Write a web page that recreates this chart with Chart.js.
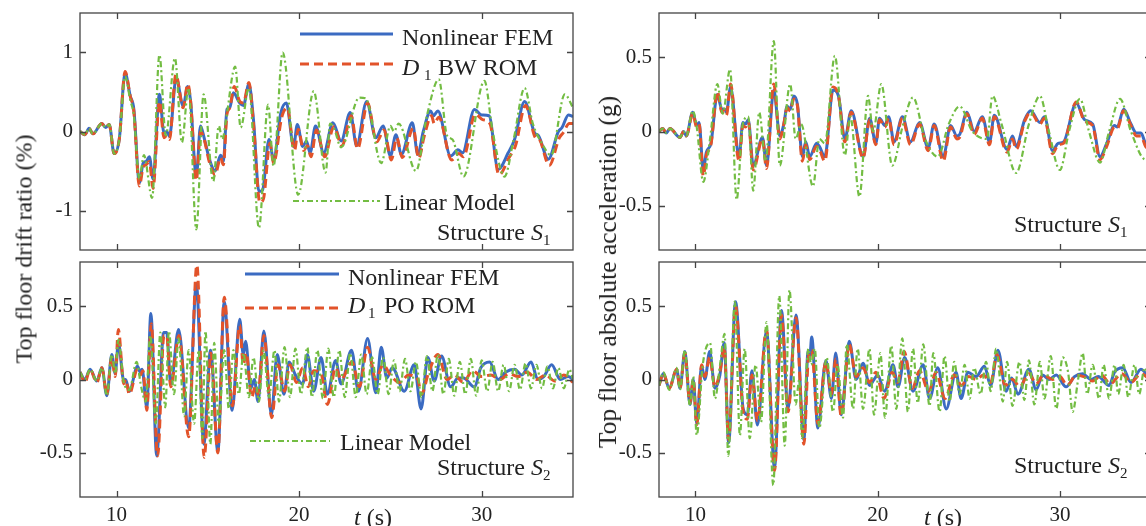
<!DOCTYPE html>
<html>
<head>
<meta charset="utf-8">
<script src="https://cdn.jsdelivr.net/npm/chart.js@4.4.1/dist/chart.umd.min.js"></script>
<style>
html, body { margin: 0; padding: 0; background: #fff; }
body { width: 1146px; height: 526px; overflow: hidden; position: relative; font-family: 'Liberation Serif', 'Times New Roman', serif; color: #222; }
canvas { position: absolute; }
.ylab { position: absolute; font-size: 24px; white-space: nowrap; transform: translate(-50%, -50%) rotate(-90deg); }
.xlab { position: absolute; font-size: 24px; white-space: nowrap; transform: translateX(-50%); }
</style>
</head>
<body>
<canvas id="cTL" width="590" height="256" style="left:0px;top:0px"></canvas>
<canvas id="cBL" width="590" height="270" style="left:0px;top:256px"></canvas>
<canvas id="cTR" width="590" height="256" style="left:580px;top:0px"></canvas>
<canvas id="cBR" width="590" height="270" style="left:580px;top:256px"></canvas>
<div class="ylab" style="left:24px;top:249px">Top floor drift ratio (%)</div>
<div class="ylab" style="left:608px;top:272px;font-size:25.5px">Top floor absolute acceleration (g)</div>
<div class="xlab" style="left:373px;top:504px"><i>t</i> (s)</div>
<div class="xlab" style="left:943px;top:504px"><i>t</i> (s)</div>
<script>
// time axis, seconds
var xTicks = [10, 20, 30];
var driftS1Ticks = [-1, 0, 1];
var halfTicks = [-0.5, 0, 0.5];

// top floor drift ratio (%), structure S1 : [t, value]
var driftS1Fem = [[8,0],[8.27,-0.04],[8.5,0.04],[8.7,-0.03],[9.2,0.1],[9.4,0.05],[9.6,0.09],[9.87,-0.28],[10.15,-0.1],[10.47,0.74],[10.75,0.45],[10.95,0.28],[11.25,-0.65],[11.46,-0.4],[11.62,-0.38],[11.8,-0.32],[12,-0.6],[12.35,0.47],[12.6,-0.02],[12.75,0],[12.9,-0.06],[13.27,0.68],[13.65,0.32],[13.9,0.57],[14.05,0.4],[14.37,-0.57],[14.6,0.07],[14.8,-0.08],[15.1,-0.36],[15.4,-0.5],[15.7,-0.3],[15.85,-0.38],[16.05,0.28],[16.2,0.3],[16.4,0.49],[16.75,0.36],[16.95,0.33],[17.25,0.6],[17.5,0.15],[17.8,-0.76],[18,-0.74],[18.35,-0.1],[18.6,-0.35],[19,0.24],[19.3,0.36],[19.7,-0.19],[19.9,0.09],[20.2,-0.19],[20.4,-0.12],[20.6,-0.27],[20.9,0.07],[21.35,-0.27],[21.85,0.11],[22.3,-0.12],[22.8,0.24],[23.15,-0.18],[23.7,0.38],[24.2,-0.08],[24.6,0.07],[25,-0.31],[25.3,-0.04],[25.6,-0.29],[26.2,0.11],[26.5,-0.29],[26.8,0],[27.2,0.26],[27.35,0.2],[27.6,0.26],[28.3,-0.31],[28.7,-0.23],[28.95,-0.27],[29.6,0.28],[30,0.21],[30.4,0.2],[30.9,-0.48],[31.45,-0.27],[31.8,-0.1],[32.35,0.38],[32.9,-0.02],[33.1,-0.05],[33.65,-0.35],[34.2,0],[34.4,0.05],[34.75,0.21],[35,0.19]];
var driftS1Rom = [[8,0],[8.27,-0.04],[8.5,0.04],[8.7,-0.03],[9.2,0.1],[9.4,0.05],[9.6,0.09],[9.87,-0.28],[10.15,-0.1],[10.47,0.76],[10.75,0.45],[10.95,0.25],[11.25,-0.69],[11.46,-0.45],[11.62,-0.42],[11.8,-0.38],[12,-0.72],[12.35,0.38],[12.6,-0.08],[12.75,-0.05],[12.9,-0.1],[13.25,0.72],[13.65,0.3],[13.9,0.6],[14.05,0.4],[14.37,-0.62],[14.6,0],[14.8,-0.1],[15.1,-0.4],[15.4,-0.55],[15.7,-0.33],[15.85,-0.42],[16.05,0.22],[16.2,0.3],[16.45,0.57],[16.75,0.38],[16.95,0.36],[17.25,0.62],[17.5,0.1],[17.85,-0.9],[18.05,-0.85],[18.4,-0.15],[18.6,-0.4],[19.05,0.18],[19.35,0.3],[19.75,-0.24],[19.95,0.03],[20.25,-0.24],[20.45,-0.18],[20.65,-0.32],[20.95,0.02],[21.4,-0.32],[21.9,0.06],[22.35,-0.18],[22.85,0.2],[23.2,-0.22],[23.75,0.36],[24.25,-0.13],[24.65,0.02],[25.05,-0.36],[25.35,-0.08],[25.65,-0.33],[26.25,0.04],[26.55,-0.34],[26.85,-0.06],[27.25,0.2],[27.4,0.1],[27.65,0.18],[28.35,-0.36],[28.75,-0.28],[29,-0.32],[29.65,0.22],[30.05,0.15],[30.45,0.1],[30.95,-0.55],[31.5,-0.33],[31.85,-0.18],[32.4,0.33],[32.95,-0.08],[33.15,-0.1],[33.7,-0.43],[34.25,-0.08],[34.45,-0.02],[34.8,0.1],[35,0.1]];
var driftS1Lin = [[8,0],[8.27,-0.04],[8.5,0.04],[8.7,-0.03],[9.2,0.1],[9.4,0.05],[9.6,0.09],[9.87,-0.28],[10.15,-0.1],[10.47,0.7],[10.75,0.4],[10.95,0.2],[11.25,-0.6],[11.5,-0.3],[11.95,-0.84],[12.35,0.97],[12.7,-0.05],[13.2,0.93],[13.58,-0.14],[13.94,0.55],[14.37,-1.24],[14.77,0.47],[15.3,-0.63],[15.6,0.07],[15.8,-0.1],[16,0.15],[16.5,0.82],[16.8,0.05],[17.25,0.55],[17.8,-1.22],[18.3,0.34],[18.6,-0.44],[19.1,1],[19.95,-0.8],[20.8,0.51],[21.45,-0.52],[21.7,0.1],[21.9,0.05],[22.3,-0.2],[23.3,0.43],[23.65,0.42],[24.5,-0.4],[25,0.07],[25.2,0],[25.45,0.1],[26.4,-0.5],[27,0.2],[27.65,0.66],[28.1,-0.05],[28.4,-0.1],[29,-0.57],[30.15,0.64],[30.6,0],[31.25,-0.57],[31.75,-0.1],[32.35,0.55],[32.8,0.1],[33.3,-0.15],[33.8,-0.3],[34.55,0.47],[35,0.3]];

// top floor drift ratio (%), structure S2
var driftS2Fem = [[8,0.05],[8.27,0],[8.55,0.07],[8.92,-0.01],[9.2,0.08],[9.47,-0.11],[9.74,0.17],[9.93,0.04],[10.1,0.25],[10.4,-0.01],[10.5,0],[10.7,-0.08],[11.15,0.09],[11.3,0.05],[11.4,0.07],[11.66,-0.19],[11.88,0.45],[12.2,-0.52],[12.58,0.32],[12.75,0.32],[12.97,-0.03],[13.4,0.34],[13.95,-0.33],[14.37,0.65],[14.78,-0.44],[15.15,0.2],[15.55,-0.49],[15.9,0.53],[16.33,-0.21],[16.75,0.41],[16.94,0.17],[17.07,0.26],[17.35,-0.06],[17.55,0],[17.75,-0.15],[18.07,0.33],[18.48,-0.24],[18.8,0.17],[19.17,-0.1],[19.45,0.12],[19.8,0.03],[20.2,-0.03],[20.45,0.17],[20.8,-0.08],[21.2,0.15],[21.55,-0.1],[22,0.13],[22.3,-0.03],[22.87,0.2],[23.25,-0.08],[23.75,0.28],[24.2,-0.09],[24.5,0.22],[24.8,0.01],[25.1,0.08],[25.76,-0.08],[26.3,0.1],[26.68,-0.2],[27.05,0.15],[27.4,-0.01],[27.8,0.16],[28.3,-0.05],[28.7,0.01],[29,0.01],[29.6,-0.05],[29.95,0.08],[30.43,0.12],[30.9,0],[31.3,0.05],[31.8,0.07],[32.2,0.03],[32.7,0.12],[33.07,0],[33.4,0.02],[33.83,0.1],[34.3,0],[34.74,0.02],[35,0]];
var driftS2Rom = [[8,0.05],[8.27,-0.02],[8.55,0.07],[8.92,-0.02],[9.2,0.08],[9.47,-0.1],[9.74,0.15],[9.93,0.02],[10.1,0.34],[10.4,-0.03],[10.5,0],[10.7,-0.1],[11.15,0.07],[11.3,0.03],[11.45,0.06],[11.66,-0.21],[11.9,0.38],[12.25,-0.52],[12.6,0.3],[12.75,0.3],[12.97,-0.05],[13.42,0.3],[13.95,-0.39],[14.4,0.78],[14.8,-0.53],[15.17,0.18],[15.55,-0.5],[15.9,0.56],[16.35,-0.18],[16.75,0.37],[16.94,0.1],[17.1,0.18],[17.4,-0.12],[17.6,-0.05],[17.75,-0.1],[18.07,0.3],[18.5,-0.26],[18.85,0.1],[19.2,-0.08],[19.5,0.1],[19.85,-0.02],[20.2,0.08],[20.5,-0.05],[20.8,0.06],[21.2,0.04],[21.55,-0.17],[22,0.08],[22.3,0],[22.9,0.12],[23.3,-0.05],[23.75,0.22],[24.2,0],[24.6,0.1],[25,0.03],[25.5,-0.02],[26,0.03],[26.5,0],[26.7,-0.1],[27.1,0.05],[27.6,0.17],[28.1,0],[28.5,0.03],[29,-0.02],[29.5,0.06],[30,0.02],[30.5,0.03],[31,0],[31.5,0.04],[32,0.02],[32.5,0.05],[33,0],[33.5,0.03],[34,-0.01],[34.5,0.03],[35,-0.02]];
var driftS2Lin = [[8,0.05],[8.27,0],[8.55,0.07],[8.92,-0.01],[9.2,0.08],[9.47,-0.11],[9.74,0.17],[9.93,0.04],[10.1,0.27],[10.4,-0.02],[10.7,-0.07],[11.1,0.12],[11.35,-0.05],[11.6,-0.15],[11.85,0.3],[12.15,-0.3],[12.4,0.32],[12.67,-0.19],[12.87,0.33],[13.15,-0.1],[13.4,0.28],[13.7,-0.25],[13.95,0.2],[14.25,-0.3],[14.5,0.2],[14.7,-0.4],[14.87,0.33],[15.14,-0.44],[15.35,0.25],[15.6,-0.3],[15.9,0.2],[16.15,-0.2],[16.4,0.2],[16.7,-0.1],[16.95,0.18],[17.25,-0.12],[17.5,0.15],[17.8,-0.15],[18.05,0.2],[18.35,-0.12],[18.65,0.2],[18.9,-0.15],[19.2,0.22],[19.5,-0.12],[19.8,0.21],[20.1,-0.1],[20.45,0.22],[20.7,-0.12],[21,0.2],[21.3,-0.13],[21.6,0.21],[21.9,-0.12],[22.2,0.2],[22.5,-0.12],[22.8,0.18],[23.1,-0.12],[23.4,0.17],[23.7,-0.1],[24,0.15],[24.3,-0.1],[24.6,0.15],[24.9,-0.1],[25.2,0.13],[25.5,-0.08],[25.8,0.14],[26.1,-0.08],[26.4,0.12],[26.7,-0.12],[27,0.16],[27.3,-0.08],[27.6,0.17],[27.9,-0.1],[28.2,0.14],[28.5,-0.11],[28.8,0.12],[29.1,-0.1],[29.4,0.14],[29.7,-0.11],[30,0.13],[30.3,-0.08],[30.6,0.12],[30.9,-0.08],[31.2,0.1],[31.5,-0.08],[31.8,0.1],[32.1,-0.07],[32.4,0.11],[32.7,-0.06],[33,0.1],[33.3,-0.06],[33.6,0.09],[33.9,-0.06],[34.2,0.08],[34.5,-0.06],[34.8,0.07],[35,0]];

// top floor absolute acceleration (g), structure S1
var accS1Fem = [[8,0],[8.2,0.02],[8.4,-0.01],[8.6,0.02],[9.15,-0.04],[9.35,0],[9.5,-0.03],[9.85,0.13],[10.07,0.04],[10.2,0.06],[10.43,-0.26],[10.6,-0.14],[10.85,-0.08],[11.2,0.25],[11.45,0.15],[11.6,0.15],[11.7,0.13],[11.93,0.3],[12.3,-0.12],[12.4,-0.17],[12.6,0.06],[12.75,0.05],[12.9,0.08],[13.17,-0.23],[13.68,-0.04],[13.9,-0.23],[14.3,0.28],[14.63,-0.03],[14.85,0.05],[15.03,0.17],[15.2,0.15],[15.4,0.24],[15.6,0.18],[15.87,-0.17],[16.05,-0.07],[16.27,-0.17],[16.65,-0.08],[16.8,-0.1],[17.1,-0.17],[17.55,0.28],[17.85,0.24],[18.2,-0.05],[18.55,0.14],[19.2,-0.17],[19.56,0.09],[19.9,-0.08],[20.1,0.09],[20.4,0.04],[20.6,0.1],[20.9,-0.07],[21.36,0.1],[21.8,-0.07],[22.3,0.06],[22.77,-0.11],[23.1,0.05],[23.6,-0.17],[24,0.04],[24.35,-0.03],[24.5,-0.02],[24.9,0.13],[25.3,0],[25.74,0.1],[26.14,-0.07],[26.4,0.11],[27.1,-0.12],[27.4,-0.03],[27.6,-0.1],[28.07,0.08],[28.4,0.14],[28.9,0.06],[29.15,0.1],[29.6,-0.13],[29.9,-0.08],[30.2,-0.07],[30.9,0.19],[31.35,0.08],[31.8,0.05],[32.2,-0.17],[32.57,-0.08],[33,0.04],[33.15,0.03],[33.5,0.15],[33.9,0.05],[34.2,-0.01],[34.45,-0.01],[34.7,-0.08],[35,-0.1]];
var accS1Rom = [[8,0],[8.2,0.02],[8.4,-0.01],[8.6,0.02],[9.15,-0.04],[9.35,0],[9.5,-0.03],[9.85,0.12],[10.07,0.03],[10.2,0.05],[10.43,-0.3],[10.6,-0.16],[10.85,-0.09],[11.2,0.27],[11.45,0.13],[11.6,0.14],[11.7,0.11],[11.93,0.32],[12.3,-0.15],[12.4,-0.2],[12.6,0.04],[12.75,0.03],[12.9,0.07],[13.17,-0.26],[13.68,-0.05],[13.9,-0.25],[14.3,0.32],[14.63,-0.05],[14.85,0.05],[15.03,0.16],[15.2,0.14],[15.4,0.22],[15.6,0.17],[15.87,-0.2],[16.05,-0.09],[16.27,-0.19],[16.65,-0.1],[16.8,-0.12],[17.1,-0.2],[17.55,0.3],[17.85,0.24],[18.2,-0.07],[18.55,0.13],[19.2,-0.18],[19.56,0.08],[19.9,-0.09],[20.1,0.08],[20.4,0.03],[20.6,0.09],[20.9,-0.09],[21.36,0.09],[21.8,-0.09],[22.3,0.05],[22.77,-0.13],[23.1,0.04],[23.6,-0.2],[24,0.03],[24.35,-0.05],[24.5,-0.04],[24.9,0.12],[25.3,-0.02],[25.74,0.09],[26.14,-0.09],[26.4,0.1],[27.1,-0.14],[27.4,-0.05],[27.6,-0.12],[28.07,0.07],[28.4,0.13],[28.9,0.05],[29.15,0.09],[29.6,-0.15],[29.9,-0.09],[30.2,-0.08],[30.9,0.2],[31.35,0.07],[31.8,0.04],[32.2,-0.19],[32.57,-0.1],[33,0.03],[33.15,0.02],[33.5,0.14],[33.9,0.04],[34.2,-0.03],[34.45,-0.03],[34.7,-0.1],[35,-0.12]];
var accS1Lin = [[8,0],[8.2,0.02],[8.4,-0.01],[8.6,0.02],[9.15,-0.04],[9.35,0],[9.5,-0.03],[9.85,0.14],[10.07,0.03],[10.43,-0.34],[10.8,-0.05],[11.2,0.32],[11.5,0.12],[11.9,0.42],[12.26,-0.46],[12.6,0.05],[12.9,0.1],[13.17,-0.4],[13.5,0.13],[13.85,-0.2],[14.3,0.61],[14.63,-0.23],[15.2,0.32],[15.5,-0.05],[15.8,0.05],[16.45,-0.37],[16.8,-0.05],[17.1,-0.08],[17.65,0.51],[18.2,-0.16],[18.5,0.1],[19,-0.44],[19.47,0.24],[19.75,0],[20.2,0.32],[20.8,-0.23],[21.4,0.05],[21.94,0.23],[22.6,-0.05],[23.3,-0.17],[23.9,0.05],[24.5,0.17],[25.2,0],[26,-0.05],[26.3,0.24],[26.8,0.05],[27.6,-0.28],[28.3,0.05],[28.9,0.24],[29.4,0],[30,-0.26],[30.5,0],[31.1,0.22],[31.6,0],[32.2,-0.21],[32.7,0],[33.3,0.22],[33.9,0],[34.7,-0.19],[35,-0.12]];

// top floor absolute acceleration (g), structure S2
var accS2Fem = [[8,-0.04],[8.24,0.04],[8.56,-0.06],[8.97,0.07],[9.15,-0.06],[9.42,0.19],[9.7,-0.17],[9.88,0],[10.07,-0.3],[10.34,0.09],[10.52,0],[10.78,0.19],[11.07,-0.06],[11.34,0.03],[11.58,0.25],[11.82,-0.43],[12.2,0.53],[12.62,-0.2],[12.85,-0.24],[13.1,0.06],[13.4,-0.31],[13.9,0.33],[14.34,-0.6],[14.72,0.47],[15.08,-0.2],[15.52,0.44],[15.95,-0.41],[16.18,0.19],[16.28,0.16],[16.38,0.29],[16.72,-0.33],[17.16,0.13],[17.46,-0.13],[17.7,0.18],[18,-0.24],[18.44,0.26],[18.82,0],[19.2,0.11],[19.56,-0.04],[19.8,0],[20,0.03],[20.38,-0.08],[20.84,0.1],[21.12,-0.05],[21.48,0.15],[21.94,-0.08],[22.5,0.1],[22.85,-0.13],[23.3,0.08],[23.76,-0.2],[24.3,0.05],[24.58,-0.13],[24.95,0.05],[25.4,0.02],[25.86,0.09],[26.2,-0.04],[26.6,0.2],[27.05,-0.08],[27.35,0.01],[27.7,-0.1],[28.3,0.07],[28.7,-0.07],[29.05,0.03],[29.4,0],[29.8,0.03],[30.34,-0.05],[30.8,0.02],[31.25,0.04],[31.7,0],[32.1,0.02],[32.7,-0.04],[33,0.05],[33.45,0.08],[33.9,-0.02],[34.45,0.07],[35,-0.01]];
var accS2Rom = [[8,-0.04],[8.24,0.04],[8.56,-0.06],[8.97,0.07],[9.15,-0.06],[9.42,0.18],[9.7,-0.16],[9.88,0],[10.07,-0.31],[10.34,0.1],[10.52,0.02],[10.78,0.15],[11.07,-0.05],[11.34,0.05],[11.58,0.22],[11.82,-0.41],[12.2,0.5],[12.62,-0.22],[12.85,-0.27],[13.1,0.03],[13.4,-0.28],[13.9,0.34],[14.34,-0.62],[14.72,0.44],[15.08,-0.22],[15.52,0.42],[15.95,-0.44],[16.2,0.15],[16.38,0.2],[16.72,-0.3],[17.16,0.12],[17.46,-0.1],[17.7,0.14],[18,-0.25],[18.44,0.24],[18.82,0.02],[19.2,0.08],[19.56,-0.02],[19.9,0.05],[20.35,-0.13],[20.8,0.05],[21.1,-0.02],[21.45,0.19],[21.9,-0.06],[22.3,0.06],[22.8,-0.08],[23.2,0.05],[23.7,-0.13],[24.2,0.03],[24.6,-0.04],[25,0.02],[25.4,0],[25.8,0.03],[26.2,-0.02],[26.55,0.17],[27,-0.04],[27.4,0],[27.8,-0.05],[28.3,0.04],[28.7,-0.03],[29.1,0.03],[29.6,0],[30,0.02],[30.4,-0.04],[30.9,0.03],[31.3,0.02],[31.8,-0.01],[32.3,0.03],[32.75,-0.03],[33.4,0.04],[33.9,-0.02],[34.45,0.04],[35,-0.01]];
var accS2Lin = [[8,-0.04],[8.24,0.05],[8.56,-0.07],[8.97,0.08],[9.15,-0.07],[9.42,0.2],[9.7,-0.18],[9.88,0.02],[10.07,-0.38],[10.4,0.1],[10.8,0.25],[11.07,-0.13],[11.35,0.1],[11.6,0.31],[11.8,-0.52],[12.16,0.53],[12.44,-0.38],[12.7,0.21],[12.98,-0.4],[13.3,0.1],[13.6,-0.29],[13.9,0.39],[14.27,-0.72],[14.6,0.57],[14.9,-0.45],[15.16,0.61],[15.5,-0.17],[15.7,0],[15.85,-0.4],[16.2,0.21],[16.35,0.1],[16.55,0.21],[16.8,-0.33],[17.2,0.15],[17.55,-0.22],[17.8,0.1],[18.1,-0.26],[18.3,0.24],[18.65,-0.2],[18.9,0.21],[19.2,-0.2],[19.55,0.21],[19.8,-0.24],[20.15,0.18],[20.4,-0.26],[20.75,0.23],[21.02,-0.2],[21.35,0.28],[21.66,-0.22],[21.94,0.21],[22.2,-0.16],[22.5,0.24],[22.85,-0.18],[23.05,0.18],[23.4,-0.22],[23.67,0.16],[23.95,-0.15],[24.2,0.12],[24.5,-0.1],[24.77,0.1],[25.05,-0.13],[25.3,0.08],[25.65,-0.1],[25.95,0.12],[26.2,-0.08],[26.5,0.21],[26.87,-0.15],[27.1,0.12],[27.4,-0.18],[27.78,0.12],[28.05,-0.14],[28.3,0.13],[28.6,-0.17],[28.9,0.12],[29.15,-0.13],[29.5,0.16],[29.8,-0.2],[30.15,0.15],[30.45,0.05],[30.7,-0.22],[31,0],[31.25,0.18],[31.5,-0.1],[31.8,0.1],[32.15,-0.13],[32.4,0.1],[32.7,-0.13],[33,0.1],[33.2,-0.1],[33.5,0.1],[33.75,-0.12],[34.1,0.1],[34.35,-0.1],[34.65,0.08],[35,-0.05]];

var BLUE = '#3b6bc2';
var RED = '#e2532a';
var GREEN = '#73bd43';
var INK = '#222222';
var SERIF = "'Liberation Serif', 'Times New Roman', serif";
var FEM_W = 3, ROM_W = 3, LIN_W = 2.2;
var ROM_DASH = [9, 5], LIN_DASH = [6, 3, 2, 3];

// box with inward ticks on all four sides, like the matlab axes
var framePlugin = {
	id: 'frame',
	afterDatasetsDraw: function(chart, args, opts) {
		var ctx = chart.ctx, a = chart.chartArea;
		var xs = chart.scales.x, ys = chart.scales.y;
		ctx.save();
		ctx.strokeStyle = '#444444';
		ctx.lineWidth = 1.3;
		ctx.setLineDash([]);
		ctx.strokeRect(a.left, a.top, a.right - a.left, a.bottom - a.top);
		ctx.beginPath();
		xTicks.forEach(function(t) {
			var px = Math.round(xs.getPixelForValue(t)) + 0.5;
			ctx.moveTo(px, a.bottom); ctx.lineTo(px, a.bottom - 6);
			ctx.moveTo(px, a.top); ctx.lineTo(px, a.top + 6);
		});
		opts.yTicks.forEach(function(v) {
			var py = Math.round(ys.getPixelForValue(v)) + 0.5;
			ctx.moveTo(a.left, py); ctx.lineTo(a.left + 6, py);
			ctx.moveTo(a.right, py); ctx.lineTo(a.right - 6, py);
		});
		ctx.stroke();
		ctx.restore();
	}
};

// legend entries and the structure label, placed inside the axes
var notePlugin = {
	id: 'notes',
	afterDraw: function(chart, args, opts) {
		var ctx = chart.ctx;
		ctx.save();
		(opts.items || []).forEach(function(it) {
			if (it.line) {
				ctx.beginPath();
				ctx.strokeStyle = it.line.color;
				ctx.lineWidth = it.line.width;
				ctx.setLineDash(it.line.dash);
				ctx.moveTo(it.line.x1, it.line.y);
				ctx.lineTo(it.line.x2, it.line.y);
				ctx.stroke();
				ctx.setLineDash([]);
			}
			var x = it.x;
			ctx.fillStyle = INK;
			ctx.textBaseline = 'alphabetic';
			it.runs.forEach(function(r) {
				var txt = r[0], st = r[1] || '';
				var size = st === 'sub' ? 15 : 24;
				var yy = st === 'sub' ? it.y + 5 : it.y;
				if (r[2] !== undefined) x = r[2];
				ctx.font = (st === 'i' ? 'italic ' : '') + size + 'px ' + SERIF;
				ctx.fillText(txt, x, yy);
				x += ctx.measureText(txt).width;
			});
		});
		ctx.restore();
	}
};

function toPoints(arr) {
	return arr.map(function(p) { return { x: p[0], y: p[1] }; });
}

function makePanel(canvasID, fem, rom, lin, yMin, yMax, yTicks, showX, axisW, bottomH, pad, notes) {
	var ctx = document.getElementById(canvasID);
	return new Chart(ctx, {
		type: 'line',
		data: {
			datasets: [
				{ label: 'Nonlinear FEM', data: toPoints(fem), borderColor: BLUE, borderWidth: FEM_W, order: 3 },
				{ label: 'ROM', data: toPoints(rom), borderColor: RED, borderWidth: ROM_W, borderDash: ROM_DASH, order: 2 },
				{ label: 'Linear Model', data: toPoints(lin), borderColor: GREEN, borderWidth: LIN_W, borderDash: LIN_DASH, order: 1 }
			]
		},
		options: {
			responsive: false,
			animation: false,
			devicePixelRatio: 1,
			layout: { padding: pad },
			elements: { point: { radius: 0 }, line: { cubicInterpolationMode: 'monotone', fill: false } },
			scales: {
				x: {
					type: 'linear', min: 8, max: 35,
					grid: { display: false, drawTicks: false }, border: { display: false },
					afterBuildTicks: function(s) { s.ticks = xTicks.map(function(v) { return { value: v }; }); },
					afterFit: function(s) { s.height = bottomH; s.paddingLeft = 0; s.paddingRight = 0; },
					ticks: { display: showX, color: INK, padding: 6, maxRotation: 0, font: { family: SERIF, size: 21 } }
				},
				y: {
					type: 'linear', min: yMin, max: yMax,
					grid: { display: false, drawTicks: false }, border: { display: false },
					afterBuildTicks: function(s) { s.ticks = yTicks.map(function(v) { return { value: v }; }); },
					afterFit: function(s) { s.width = axisW; s.paddingTop = 0; s.paddingBottom = 0; },
					ticks: { color: INK, padding: 7, font: { family: SERIF, size: 21 } }
				}
			},
			plugins: {
				legend: { display: false },
				tooltip: { enabled: false },
				frame: { yTicks: yTicks },
				notes: { items: notes }
			}
		},
		plugins: [framePlugin, notePlugin]
	});
}

makePanel('cTL', driftS1Fem, driftS1Rom, driftS1Lin, -1.5, 1.5, driftS1Ticks, false, 80, 0,
	{ top: 13, right: 17, bottom: 6, left: 0 },
	[
		{ line: { color: BLUE, width: FEM_W, dash: [], x1: 300, x2: 393, y: 34 }, x: 402, y: 45, runs: [['Nonlinear FEM']] },
		{ line: { color: RED, width: ROM_W, dash: ROM_DASH, x1: 300, x2: 393, y: 64 }, x: 402, y: 75, runs: [['D', 'i'], ['1', 'sub', 424], [' BW ROM', '', 432]] },
		{ line: { color: GREEN, width: LIN_W, dash: LIN_DASH, x1: 293, x2: 380, y: 201 }, x: 384, y: 210, runs: [['Linear Model']] },
		{ x: 437, y: 240, runs: [['Structure '], ['S', 'i'], ['1', 'sub']] }
	]);

makePanel('cBL', driftS2Fem, driftS2Rom, driftS2Lin, -0.8, 0.8, halfTicks, true, 80, 29,
	{ top: 6, right: 17, bottom: 0, left: 0 },
	[
		{ line: { color: BLUE, width: FEM_W, dash: [], x1: 245, x2: 339, y: 18 }, x: 348, y: 29, runs: [['Nonlinear FEM']] },
		{ line: { color: RED, width: ROM_W, dash: ROM_DASH, x1: 245, x2: 339, y: 52 }, x: 348, y: 57, runs: [['D', 'i'], ['1', 'sub', 368], [' PO ROM', '', 378]] },
		{ line: { color: GREEN, width: LIN_W, dash: LIN_DASH, x1: 250, x2: 330, y: 185 }, x: 340, y: 194, runs: [['Linear Model']] },
		{ x: 437, y: 219, runs: [['Structure '], ['S', 'i'], ['2', 'sub']] }
	]);

makePanel('cTR', accS1Fem, accS1Rom, accS1Lin, -0.8, 0.8, halfTicks, false, 79, 0,
	{ top: 13, right: 19, bottom: 6, left: 0 },
	[
		{ x: 434, y: 232, runs: [['Structure '], ['S', 'i'], ['1', 'sub']] }
	]);

makePanel('cBR', accS2Fem, accS2Rom, accS2Lin, -0.8, 0.8, halfTicks, true, 79, 29,
	{ top: 6, right: 19, bottom: 0, left: 0 },
	[
		{ x: 434, y: 217, runs: [['Structure '], ['S', 'i'], ['2', 'sub']] }
	]);
</script>
</body>
</html>
